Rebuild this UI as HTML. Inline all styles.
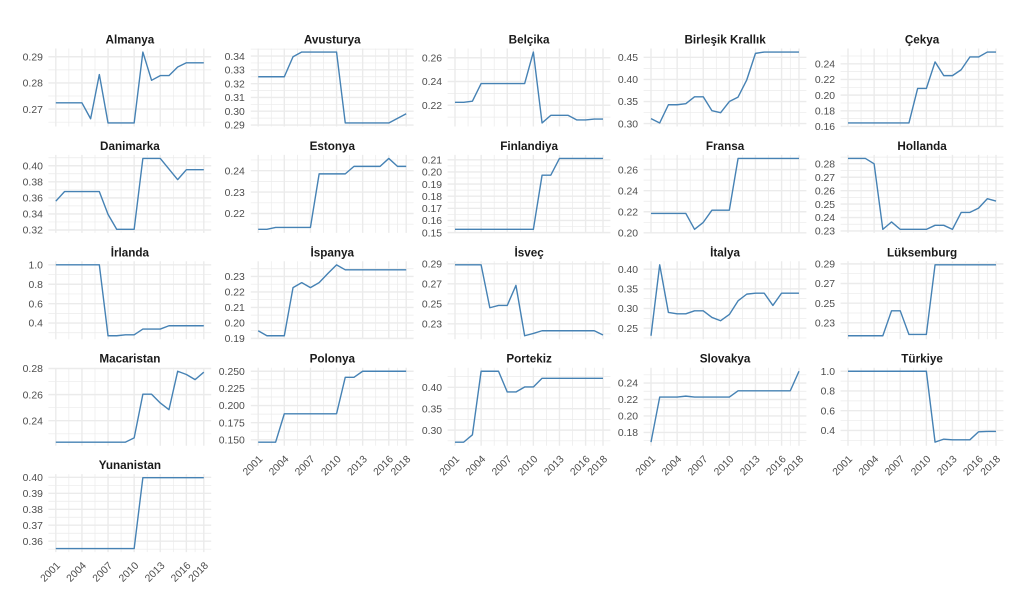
<!DOCTYPE html>
<html><head><meta charset="utf-8"><style>
html,body{margin:0;padding:0;background:#fff;}
svg{display:block;}
path,polyline{vector-effect:non-scaling-stroke;fill:none;}
.mn{stroke:#EBEBEB;stroke-width:0.7;}
.mj{stroke:#EBEBEB;stroke-width:1.4;}
.d{stroke:#4682B4;stroke-width:1.4;stroke-linejoin:round;}
.y{font-family:"Liberation Sans",sans-serif;font-size:10.4px;fill:#4D4D4D;text-anchor:end;}
.x{font-family:"Liberation Sans",sans-serif;font-size:10.4px;fill:#4D4D4D;text-anchor:end;}
.t{font-family:"Liberation Sans","Noto Sans CJK JP",sans-serif;font-size:11.7px;font-weight:bold;fill:#1a1a1a;text-anchor:middle;}
</style></head><body>
<svg width="1011" height="604" viewBox="0 0 1011 604" xmlns="http://www.w3.org/2000/svg">
<rect width="1011" height="604" fill="#fff"/>

<!-- Almanya -->
<g transform="translate(55.8,52.05) scale(8.706,-2616.2) translate(-2001,-0.2918)">
<path class="mn" d="M2000.15,.265H2018.85M2000.15,.275H2018.85M2000.15,.285H2018.85M2002.5,.26335V.29316M2005.5,.26335V.29316M2008.5,.26335V.29316M2011.5,.26335V.29316M2014.5,.26335V.29316M2017,.26335V.29316"/>
<path class="mj" d="M2000.15,.27H2018.85M2000.15,.28H2018.85M2000.15,.29H2018.85M2001,.26335V.29316M2004,.26335V.29316M2007,.26335V.29316M2010,.26335V.29316M2013,.26335V.29316M2016,.26335V.29316M2018,.26335V.29316"/>
<polyline class="d" points="2001,.2724 2004,.2724 2005,.2663 2006,.2832 2007,.2647 2010,.2647 2011,.2918 2012,.2810 2013,.2828 2014,.2828 2015,.2861 2016,.2877 2018,.2877"/>
</g>
<text class="t" x="129.9" y="43.5">Almanya</text>
<text class="y" x="42.9" y="60.5">0.29</text><text class="y" x="42.9" y="86.6">0.28</text><text class="y" x="42.9" y="112.8">0.27</text>

<!-- Avusturya -->
<g transform="translate(258.2,52.05) scale(8.706,-1379.4) translate(-2001,-0.3429)">
<path class="mn" d="M2000.15,.295H2018.85M2000.15,.305H2018.85M2000.15,.315H2018.85M2000.15,.325H2018.85M2000.15,.335H2018.85M2000.15,.345H2018.85M2002.5,.28893V.34547M2005.5,.28893V.34547M2008.5,.28893V.34547M2011.5,.28893V.34547M2014.5,.28893V.34547M2017,.28893V.34547"/>
<path class="mj" d="M2000.15,.29H2018.85M2000.15,.30H2018.85M2000.15,.31H2018.85M2000.15,.32H2018.85M2000.15,.33H2018.85M2000.15,.34H2018.85M2001,.28893V.34547M2004,.28893V.34547M2007,.28893V.34547M2010,.28893V.34547M2013,.28893V.34547M2016,.28893V.34547M2018,.28893V.34547"/>
<polyline class="d" points="2001,.325 2004,.325 2005,.3395 2006,.3429 2010,.3429 2011,.2915 2016,.2915 2017,.2948 2018,.2982"/>
</g>
<text class="t" x="332.3" y="43.5">Avusturya</text>
<text class="y" x="244.8" y="59.8">0.34</text><text class="y" x="244.8" y="73.5">0.33</text><text class="y" x="244.8" y="87.3">0.32</text><text class="y" x="244.8" y="101.1">0.31</text><text class="y" x="244.8" y="114.9">0.30</text><text class="y" x="244.8" y="128.7">0.29</text>

<!-- Belçika -->
<g transform="translate(455,52.05) scale(8.706,-1187.6) translate(-2001,-0.2648)">
<path class="mn" d="M2000.15,.21H2018.85M2000.15,.23H2018.85M2000.15,.25H2018.85M2002.5,.2021V.2678M2005.5,.2021V.2678M2008.5,.2021V.2678M2011.5,.2021V.2678M2014.5,.2021V.2678M2017,.2021V.2678"/>
<path class="mj" d="M2000.15,.22H2018.85M2000.15,.24H2018.85M2000.15,.26H2018.85M2001,.2021V.2678M2004,.2021V.2678M2007,.2021V.2678M2010,.2021V.2678M2013,.2021V.2678M2016,.2021V.2678M2018,.2021V.2678"/>
<polyline class="d" points="2001,.2225 2002,.2225 2003,.2234 2004,.2383 2009,.2383 2010,.2648 2011,.2051 2012,.2115 2014,.2115 2015,.2076 2016,.2076 2017,.2084 2018,.2084"/>
</g>
<text class="t" x="529.1" y="43.5">Belçika</text>
<text class="y" x="442.1" y="61.5">0.26</text><text class="y" x="442.1" y="85.2">0.24</text><text class="y" x="442.1" y="109.0">0.22</text>

<!-- Birleşik Krallık -->
<g transform="translate(651,52.05) scale(8.706,-441.74) translate(-2001,-0.462)">
<path class="mn" d="M2000.15,.325H2018.85M2000.15,.375H2018.85M2000.15,.425H2018.85M2002.5,.2935V.470M2005.5,.2935V.470M2008.5,.2935V.470M2011.5,.2935V.470M2014.5,.2935V.470M2017,.2935V.470"/>
<path class="mj" d="M2000.15,.30H2018.85M2000.15,.35H2018.85M2000.15,.40H2018.85M2000.15,.45H2018.85M2001,.2935V.470M2004,.2935V.470M2007,.2935V.470M2010,.2935V.470M2013,.2935V.470M2016,.2935V.470M2018,.2935V.470"/>
<polyline class="d" points="2001,.3112 2002,.3015 2003,.3427 2004,.3427 2005,.345 2006,.3607 2007,.3607 2008,.3292 2009,.3247 2010,.35 2011,.36 2012,.399 2013,.459 2014,.462 2018,.462"/>
</g>
<text class="t" x="725.1" y="43.5">Birleşik Krallık</text>
<text class="y" x="638.1" y="61.1">0.45</text><text class="y" x="638.1" y="83.1">0.40</text><text class="y" x="638.1" y="105.2">0.35</text><text class="y" x="638.1" y="127.3">0.30</text>

<!-- Çekya -->
<g transform="translate(848,52.05) scale(8.706,-783.4) translate(-2001,-0.255)">
<path class="mn" d="M2000.15,.17H2018.85M2000.15,.19H2018.85M2000.15,.21H2018.85M2000.15,.23H2018.85M2000.15,.25H2018.85M2002.5,.15998V.25953M2005.5,.15998V.25953M2008.5,.15998V.25953M2011.5,.15998V.25953M2014.5,.15998V.25953M2017,.15998V.25953"/>
<path class="mj" d="M2000.15,.16H2018.85M2000.15,.18H2018.85M2000.15,.20H2018.85M2000.15,.22H2018.85M2000.15,.24H2018.85M2001,.15998V.25953M2004,.15998V.25953M2007,.15998V.25953M2010,.15998V.25953M2013,.15998V.25953M2016,.15998V.25953M2018,.15998V.25953"/>
<polyline class="d" points="2001,.1645 2008,.1645 2009,.2085 2010,.2085 2011,.2424 2012,.2249 2013,.2249 2014,.2324 2015,.2487 2016,.2487 2017,.255 2018,.255"/>
</g>
<text class="t" x="922.1" y="43.5">Çekya</text>
<text class="y" x="835.1" y="67.5">0.24</text><text class="y" x="835.1" y="83.2">0.22</text><text class="y" x="835.1" y="98.8">0.20</text><text class="y" x="835.1" y="114.5">0.18</text><text class="y" x="835.1" y="130.2">0.16</text>

<!-- Danimarka -->
<g transform="translate(55.8,158.45) scale(8.706,-802.9) translate(-2001,-0.4091)">
<path class="mn" d="M2000.15,.33H2018.85M2000.15,.35H2018.85M2000.15,.37H2018.85M2000.15,.39H2018.85M2000.15,.41H2018.85M2002.5,.31639V.41352M2005.5,.31639V.41352M2008.5,.31639V.41352M2011.5,.31639V.41352M2014.5,.31639V.41352M2017,.31639V.41352"/>
<path class="mj" d="M2000.15,.32H2018.85M2000.15,.34H2018.85M2000.15,.36H2018.85M2000.15,.38H2018.85M2000.15,.40H2018.85M2001,.31639V.41352M2004,.31639V.41352M2007,.31639V.41352M2010,.31639V.41352M2013,.31639V.41352M2016,.31639V.41352M2018,.31639V.41352"/>
<polyline class="d" points="2001,.3559 2002,.3678 2006,.3678 2007,.3394 2008,.3208 2010,.3208 2011,.4091 2013,.4091 2014,.3959 2015,.3827 2016,.3951 2018,.3951"/>
</g>
<text class="t" x="129.9" y="149.9">Danimarka</text>
<text class="y" x="42.9" y="169.5">0.40</text><text class="y" x="42.9" y="185.5">0.38</text><text class="y" x="42.9" y="201.6">0.36</text><text class="y" x="42.9" y="217.6">0.34</text><text class="y" x="42.9" y="233.7">0.32</text>

<!-- Estonya -->
<g transform="translate(258.2,158.45) scale(8.706,-2142) translate(-2001,-0.2457)">
<path class="mn" d="M2000.15,.215H2018.85M2000.15,.225H2018.85M2000.15,.235H2018.85M2000.15,.245H2018.85M2002.5,.21095V.24736M2005.5,.21095V.24736M2008.5,.21095V.24736M2011.5,.21095V.24736M2014.5,.21095V.24736M2017,.21095V.24736"/>
<path class="mj" d="M2000.15,.22H2018.85M2000.15,.23H2018.85M2000.15,.24H2018.85M2001,.21095V.24736M2004,.21095V.24736M2007,.21095V.24736M2010,.21095V.24736M2013,.21095V.24736M2016,.21095V.24736M2018,.21095V.24736"/>
<polyline class="d" points="2001,.2126 2002,.2126 2003,.2135 2007,.2135 2008,.2385 2011,.2385 2012,.242 2015,.242 2016,.2457 2017,.242 2018,.242"/>
</g>
<text class="t" x="332.3" y="149.9">Estonya</text>
<text class="y" x="244.8" y="174.4">0.24</text><text class="y" x="244.8" y="195.8">0.23</text><text class="y" x="244.8" y="217.2">0.22</text>

<!-- Finlandiya -->
<g transform="translate(455,158.45) scale(8.706,-1214) translate(-2001,-0.2111)">
<path class="mn" d="M2000.15,.155H2018.85M2000.15,.165H2018.85M2000.15,.175H2018.85M2000.15,.185H2018.85M2000.15,.195H2018.85M2000.15,.205H2018.85M2002.5,.14978V.21402M2005.5,.14978V.21402M2008.5,.14978V.21402M2011.5,.14978V.21402M2014.5,.14978V.21402M2017,.14978V.21402"/>
<path class="mj" d="M2000.15,.15H2018.85M2000.15,.16H2018.85M2000.15,.17H2018.85M2000.15,.18H2018.85M2000.15,.19H2018.85M2000.15,.20H2018.85M2000.15,.21H2018.85M2001,.14978V.21402M2004,.14978V.21402M2007,.14978V.21402M2010,.14978V.21402M2013,.14978V.21402M2016,.14978V.21402M2018,.14978V.21402"/>
<polyline class="d" points="2001,.1527 2010,.1527 2011,.1973 2012,.1973 2013,.2111 2018,.2111"/>
</g>
<text class="t" x="529.1" y="149.9">Finlandiya</text>
<text class="y" x="442.1" y="163.5">0.21</text><text class="y" x="442.1" y="175.6">0.20</text><text class="y" x="442.1" y="187.8">0.19</text><text class="y" x="442.1" y="199.9">0.18</text><text class="y" x="442.1" y="212.1">0.17</text><text class="y" x="442.1" y="224.2">0.16</text><text class="y" x="442.1" y="236.3">0.15</text>

<!-- Fransa -->
<g transform="translate(651,158.45) scale(8.706,-1053.5) translate(-2001,-0.2706)">
<path class="mn" d="M2000.15,.21H2018.85M2000.15,.23H2018.85M2000.15,.25H2018.85M2000.15,.27H2018.85M2002.5,.19994V.27397M2005.5,.19994V.27397M2008.5,.19994V.27397M2011.5,.19994V.27397M2014.5,.19994V.27397M2017,.19994V.27397"/>
<path class="mj" d="M2000.15,.20H2018.85M2000.15,.22H2018.85M2000.15,.24H2018.85M2000.15,.26H2018.85M2001,.19994V.27397M2004,.19994V.27397M2007,.19994V.27397M2010,.19994V.27397M2013,.19994V.27397M2016,.19994V.27397M2018,.19994V.27397"/>
<polyline class="d" points="2001,.2184 2005,.2184 2006,.2033 2007,.2099 2008,.2215 2010,.2215 2011,.2706 2018,.2706"/>
</g>
<text class="t" x="725.1" y="149.9">Fransa</text>
<text class="y" x="638.1" y="173.3">0.26</text><text class="y" x="638.1" y="194.4">0.24</text><text class="y" x="638.1" y="215.5">0.22</text><text class="y" x="638.1" y="236.5">0.20</text>

<!-- Hollanda -->
<g transform="translate(848,158.45) scale(8.706,-1342.8) translate(-2001,-0.284)">
<path class="mn" d="M2000.15,.235H2018.85M2000.15,.245H2018.85M2000.15,.255H2018.85M2000.15,.265H2018.85M2000.15,.275H2018.85M2000.15,.285H2018.85M2002.5,.22856V.28664M2005.5,.22856V.28664M2008.5,.22856V.28664M2011.5,.22856V.28664M2014.5,.22856V.28664M2017,.22856V.28664"/>
<path class="mj" d="M2000.15,.23H2018.85M2000.15,.24H2018.85M2000.15,.25H2018.85M2000.15,.26H2018.85M2000.15,.27H2018.85M2000.15,.28H2018.85M2001,.22856V.28664M2004,.22856V.28664M2007,.22856V.28664M2010,.22856V.28664M2013,.22856V.28664M2016,.22856V.28664M2018,.22856V.28664"/>
<polyline class="d" points="2001,.284 2003,.284 2004,.28 2005,.2312 2006,.2367 2007,.2312 2010,.2312 2011,.2342 2012,.2342 2013,.2312 2014,.2438 2015,.2438 2016,.247 2017,.254 2018,.2523"/>
</g>
<text class="t" x="922.1" y="149.9">Hollanda</text>
<text class="y" x="835.1" y="167.5">0.28</text><text class="y" x="835.1" y="181.0">0.27</text><text class="y" x="835.1" y="194.4">0.26</text><text class="y" x="835.1" y="207.8">0.25</text><text class="y" x="835.1" y="221.2">0.24</text><text class="y" x="835.1" y="234.7">0.23</text>

<!-- İrlanda -->
<g transform="translate(55.8,264.85) scale(8.706,-96.99) translate(-2001,-1)">
<path class="mn" d="M2000.15,.3H2018.85M2000.15,.5H2018.85M2000.15,.7H2018.85M2000.15,.9H2018.85M2002.5,.23245V1.03655M2005.5,.23245V1.03655M2008.5,.23245V1.03655M2011.5,.23245V1.03655M2014.5,.23245V1.03655M2017,.23245V1.03655"/>
<path class="mj" d="M2000.15,.4H2018.85M2000.15,.6H2018.85M2000.15,.8H2018.85M2000.15,1H2018.85M2001,.23245V1.03655M2004,.23245V1.03655M2007,.23245V1.03655M2010,.23245V1.03655M2013,.23245V1.03655M2016,.23245V1.03655M2018,.23245V1.03655"/>
<polyline class="d" points="2001,1 2006,1 2007,.269 2008,.269 2009,.279 2010,.279 2011,.338 2013,.338 2014,.372 2018,.372"/>
</g>
<text class="t" x="129.9" y="256.3">İrlanda</text>
<text class="y" x="42.9" y="268.6">1.0</text><text class="y" x="42.9" y="288.0">0.8</text><text class="y" x="42.9" y="307.4">0.6</text><text class="y" x="42.9" y="326.7">0.4</text>

<!-- İspanya -->
<g transform="translate(258.2,264.85) scale(8.706,-1548) translate(-2001,-0.2375)">
<path class="mn" d="M2000.15,.195H2018.85M2000.15,.205H2018.85M2000.15,.215H2018.85M2000.15,.225H2018.85M2000.15,.235H2018.85M2002.5,.18941V.23979M2005.5,.18941V.23979M2008.5,.18941V.23979M2011.5,.18941V.23979M2014.5,.18941V.23979M2017,.18941V.23979"/>
<path class="mj" d="M2000.15,.19H2018.85M2000.15,.20H2018.85M2000.15,.21H2018.85M2000.15,.22H2018.85M2000.15,.23H2018.85M2001,.18941V.23979M2004,.18941V.23979M2007,.18941V.23979M2010,.18941V.23979M2013,.18941V.23979M2016,.18941V.23979M2018,.18941V.23979"/>
<polyline class="d" points="2001,.1949 2002,.1917 2004,.1917 2005,.2228 2006,.226 2007,.2228 2008,.226 2009,.2319 2010,.2375 2011,.2343 2018,.2343"/>
</g>
<text class="t" x="332.3" y="256.3">İspanya</text>
<text class="y" x="244.8" y="280.2">0.23</text><text class="y" x="244.8" y="295.6">0.22</text><text class="y" x="244.8" y="311.1">0.21</text><text class="y" x="244.8" y="326.6">0.20</text><text class="y" x="244.8" y="342.1">0.19</text>

<!-- İsveç -->
<g transform="translate(455,264.85) scale(8.706,-1000) translate(-2001,-0.289)">
<path class="mn" d="M2000.15,.22H2018.85M2000.15,.24H2018.85M2000.15,.26H2018.85M2000.15,.28H2018.85M2002.5,.21456V.29255M2005.5,.21456V.29255M2008.5,.21456V.29255M2011.5,.21456V.29255M2014.5,.21456V.29255M2017,.21456V.29255"/>
<path class="mj" d="M2000.15,.23H2018.85M2000.15,.25H2018.85M2000.15,.27H2018.85M2000.15,.29H2018.85M2001,.21456V.29255M2004,.21456V.29255M2007,.21456V.29255M2010,.21456V.29255M2013,.21456V.29255M2016,.21456V.29255M2018,.21456V.29255"/>
<polyline class="d" points="2001,.289 2004,.289 2005,.2461 2006,.2484 2007,.2484 2008,.2685 2009,.2181 2010,.2204 2011,.2231 2017,.2231 2018,.2188"/>
</g>
<text class="t" x="529.1" y="256.3">İsveç</text>
<text class="y" x="442.1" y="267.6">0.29</text><text class="y" x="442.1" y="287.6">0.27</text><text class="y" x="442.1" y="307.6">0.25</text><text class="y" x="442.1" y="327.6">0.23</text>

<!-- İtalya -->
<g transform="translate(651,264.85) scale(8.706,-393) translate(-2001,-0.411)">
<path class="mn" d="M2000.15,.225H2018.85M2000.15,.275H2018.85M2000.15,.325H2018.85M2000.15,.375H2018.85M2002.5,.22158V.42002M2005.5,.22158V.42002M2008.5,.22158V.42002M2011.5,.22158V.42002M2014.5,.22158V.42002M2017,.22158V.42002"/>
<path class="mj" d="M2000.15,.25H2018.85M2000.15,.30H2018.85M2000.15,.35H2018.85M2000.15,.40H2018.85M2001,.22158V.42002M2004,.22158V.42002M2007,.22158V.42002M2010,.22158V.42002M2013,.22158V.42002M2016,.22158V.42002M2018,.22158V.42002"/>
<polyline class="d" points="2001,.2306 2002,.411 2003,.2899 2004,.2865 2005,.2865 2006,.2941 2007,.2941 2008,.2772 2009,.2688 2010,.2848 2011,.3194 2012,.3365 2013,.339 2014,.339 2015,.3078 2016,.339 2018,.339"/>
</g>
<text class="t" x="725.1" y="256.3">İtalya</text>
<text class="y" x="638.1" y="272.9">0.40</text><text class="y" x="638.1" y="292.5">0.35</text><text class="y" x="638.1" y="312.2">0.30</text><text class="y" x="638.1" y="331.8">0.25</text>

<!-- Lüksemburg -->
<g transform="translate(848,264.85) scale(8.706,-982) translate(-2001,-0.289)">
<path class="mn" d="M2000.15,.22H2018.85M2000.15,.24H2018.85M2000.15,.26H2018.85M2000.15,.28H2018.85M2002.5,.21319V.29261M2005.5,.21319V.29261M2008.5,.21319V.29261M2011.5,.21319V.29261M2014.5,.21319V.29261M2017,.21319V.29261"/>
<path class="mj" d="M2000.15,.23H2018.85M2000.15,.25H2018.85M2000.15,.27H2018.85M2000.15,.29H2018.85M2001,.21319V.29261M2004,.21319V.29261M2007,.21319V.29261M2010,.21319V.29261M2013,.21319V.29261M2016,.21319V.29261M2018,.21319V.29261"/>
<polyline class="d" points="2001,.2168 2005,.2168 2006,.2422 2007,.2422 2008,.2181 2010,.2181 2011,.289 2018,.289"/>
</g>
<text class="t" x="922.1" y="256.3">Lüksemburg</text>
<text class="y" x="835.1" y="267.6">0.29</text><text class="y" x="835.1" y="287.2">0.27</text><text class="y" x="835.1" y="306.9">0.25</text><text class="y" x="835.1" y="326.5">0.23</text>

<!-- Macaristan -->
<g transform="translate(55.8,371.25) scale(8.706,-1305.7) translate(-2001,-0.2779)">
<path class="mn" d="M2000.15,.23H2018.85M2000.15,.25H2018.85M2000.15,.27H2018.85M2002.5,.22089V.28062M2005.5,.22089V.28062M2008.5,.22089V.28062M2011.5,.22089V.28062M2014.5,.22089V.28062M2017,.22089V.28062"/>
<path class="mj" d="M2000.15,.24H2018.85M2000.15,.26H2018.85M2000.15,.28H2018.85M2001,.22089V.28062M2004,.22089V.28062M2007,.22089V.28062M2010,.22089V.28062M2013,.22089V.28062M2016,.22089V.28062M2018,.22089V.28062"/>
<polyline class="d" points="2001,.2236 2009,.2236 2010,.2269 2011,.2603 2012,.2603 2013,.2536 2014,.2485 2015,.2779 2016,.2754 2017,.2715 2018,.2772"/>
</g>
<text class="t" x="129.9" y="362.7">Macaristan</text>
<text class="y" x="42.9" y="372.2">0.28</text><text class="y" x="42.9" y="398.3">0.26</text><text class="y" x="42.9" y="424.4">0.24</text>

<!-- Polonya -->
<g transform="translate(258.2,371.25) scale(8.706,-685.7) translate(-2001,-0.25)">
<path class="mn" d="M2000.15,.1625H2018.85M2000.15,.1875H2018.85M2000.15,.2125H2018.85M2000.15,.2375H2018.85M2002.5,.14143V.25517M2005.5,.14143V.25517M2008.5,.14143V.25517M2011.5,.14143V.25517M2014.5,.14143V.25517M2017,.14143V.25517"/>
<path class="mj" d="M2000.15,.15H2018.85M2000.15,.175H2018.85M2000.15,.20H2018.85M2000.15,.225H2018.85M2000.15,.25H2018.85M2001,.14143V.25517M2004,.14143V.25517M2007,.14143V.25517M2010,.14143V.25517M2013,.14143V.25517M2016,.14143V.25517M2018,.14143V.25517"/>
<polyline class="d" points="2001,.1466 2003,.1466 2004,.188 2010,.188 2011,.2412 2012,.2412 2013,.25 2018,.25"/>
</g>
<text class="t" x="332.3" y="362.7">Polonya</text>
<text class="y" x="244.8" y="375.0">0.250</text><text class="y" x="244.8" y="392.1">0.225</text><text class="y" x="244.8" y="409.2">0.200</text><text class="y" x="244.8" y="426.4">0.175</text><text class="y" x="244.8" y="443.5">0.150</text>

<!-- Portekiz -->
<g transform="translate(455,371.25) scale(8.706,-428.1) translate(-2001,-0.4375)">
<path class="mn" d="M2000.15,.275H2018.85M2000.15,.325H2018.85M2000.15,.375H2018.85M2000.15,.425H2018.85M2002.5,.26362V.44578M2005.5,.26362V.44578M2008.5,.26362V.44578M2011.5,.26362V.44578M2014.5,.26362V.44578M2017,.26362V.44578"/>
<path class="mj" d="M2000.15,.30H2018.85M2000.15,.35H2018.85M2000.15,.40H2018.85M2001,.26362V.44578M2004,.26362V.44578M2007,.26362V.44578M2010,.26362V.44578M2013,.26362V.44578M2016,.26362V.44578M2018,.26362V.44578"/>
<polyline class="d" points="2001,.2719 2002,.2719 2003,.2891 2004,.4375 2006,.4375 2007,.3891 2008,.3891 2009,.4008 2010,.4008 2011,.4211 2018,.4211"/>
</g>
<text class="t" x="529.1" y="362.7">Portekiz</text>
<text class="y" x="442.1" y="391.0">0.40</text><text class="y" x="442.1" y="412.4">0.35</text><text class="y" x="442.1" y="433.8">0.30</text>

<!-- Slovakya -->
<g transform="translate(651,371.25) scale(8.706,-823.5) translate(-2001,-0.2543)">
<path class="mn" d="M2000.15,.17H2018.85M2000.15,.19H2018.85M2000.15,.21H2018.85M2000.15,.23H2018.85M2000.15,.25H2018.85M2002.5,.1639V.25861M2005.5,.1639V.25861M2008.5,.1639V.25861M2011.5,.1639V.25861M2014.5,.1639V.25861M2017,.1639V.25861"/>
<path class="mj" d="M2000.15,.18H2018.85M2000.15,.20H2018.85M2000.15,.22H2018.85M2000.15,.24H2018.85M2001,.1639V.25861M2004,.1639V.25861M2007,.1639V.25861M2010,.1639V.25861M2013,.1639V.25861M2016,.1639V.25861M2018,.1639V.25861"/>
<polyline class="d" points="2001,.1682 2002,.2229 2004,.2229 2005,.2241 2006,.2229 2010,.2229 2011,.2306 2017,.2306 2018,.2543"/>
</g>
<text class="t" x="725.1" y="362.7">Slovakya</text>
<text class="y" x="638.1" y="386.7">0.24</text><text class="y" x="638.1" y="403.2">0.22</text><text class="y" x="638.1" y="419.7">0.20</text><text class="y" x="638.1" y="436.1">0.18</text>

<!-- Türkiye -->
<g transform="translate(848,371.25) scale(8.706,-98.66) translate(-2001,-1)">
<path class="mn" d="M2000.15,.3H2018.85M2000.15,.5H2018.85M2000.15,.7H2018.85M2000.15,.9H2018.85M2002.5,.24547V1.03593M2005.5,.24547V1.03593M2008.5,.24547V1.03593M2011.5,.24547V1.03593M2014.5,.24547V1.03593M2017,.24547V1.03593"/>
<path class="mj" d="M2000.15,.4H2018.85M2000.15,.6H2018.85M2000.15,.8H2018.85M2000.15,1H2018.85M2001,.24547V1.03593M2004,.24547V1.03593M2007,.24547V1.03593M2010,.24547V1.03593M2013,.24547V1.03593M2016,.24547V1.03593M2018,.24547V1.03593"/>
<polyline class="d" points="2001,1 2010,1 2011,.2814 2012,.3119 2013,.305 2015,.305 2016,.3864 2017,.39 2018,.39"/>
</g>
<text class="t" x="922.1" y="362.7">Türkiye</text>
<text class="y" x="835.1" y="375.0">1.0</text><text class="y" x="835.1" y="394.7">0.8</text><text class="y" x="835.1" y="414.4">0.6</text><text class="y" x="835.1" y="434.2">0.4</text>

<!-- Yunanistan -->
<g transform="translate(55.8,477.65) scale(8.706,-1596.8) translate(-2001,-0.3998)">
<path class="mn" d="M2000.15,.355H2018.85M2000.15,.365H2018.85M2000.15,.375H2018.85M2000.15,.385H2018.85M2000.15,.395H2018.85M2002.5,.35318V.40202M2005.5,.35318V.40202M2008.5,.35318V.40202M2011.5,.35318V.40202M2014.5,.35318V.40202M2017,.35318V.40202"/>
<path class="mj" d="M2000.15,.36H2018.85M2000.15,.37H2018.85M2000.15,.38H2018.85M2000.15,.39H2018.85M2000.15,.40H2018.85M2001,.35318V.40202M2004,.35318V.40202M2007,.35318V.40202M2010,.35318V.40202M2013,.35318V.40202M2016,.35318V.40202M2018,.35318V.40202"/>
<polyline class="d" points="2001,.3554 2010,.3554 2011,.3998 2018,.3998"/>
</g>
<text class="t" x="129.9" y="469.1">Yunanistan</text>
<text class="y" x="42.9" y="481.0">0.40</text><text class="y" x="42.9" y="497.0">0.39</text><text class="y" x="42.9" y="513.0">0.38</text><text class="y" x="42.9" y="528.9">0.37</text><text class="y" x="42.9" y="544.9">0.36</text>

<!-- X axis labels -->
<g>
<text class="x" transform="translate(60.8,566.1) rotate(-45)">2001</text>
<text class="x" transform="translate(86.9,566.1) rotate(-45)">2004</text>
<text class="x" transform="translate(113.0,566.1) rotate(-45)">2007</text>
<text class="x" transform="translate(139.2,566.1) rotate(-45)">2010</text>
<text class="x" transform="translate(165.3,566.1) rotate(-45)">2013</text>
<text class="x" transform="translate(191.4,566.1) rotate(-45)">2016</text>
<text class="x" transform="translate(208.8,566.1) rotate(-45)">2018</text>
</g>
<g>
<text class="x" transform="translate(263.2,459.7) rotate(-45)">2001</text>
<text class="x" transform="translate(289.3,459.7) rotate(-45)">2004</text>
<text class="x" transform="translate(315.4,459.7) rotate(-45)">2007</text>
<text class="x" transform="translate(341.6,459.7) rotate(-45)">2010</text>
<text class="x" transform="translate(367.7,459.7) rotate(-45)">2013</text>
<text class="x" transform="translate(393.8,459.7) rotate(-45)">2016</text>
<text class="x" transform="translate(411.2,459.7) rotate(-45)">2018</text>
</g>
<g>
<text class="x" transform="translate(460,459.7) rotate(-45)">2001</text>
<text class="x" transform="translate(486.1,459.7) rotate(-45)">2004</text>
<text class="x" transform="translate(512.2,459.7) rotate(-45)">2007</text>
<text class="x" transform="translate(538.4,459.7) rotate(-45)">2010</text>
<text class="x" transform="translate(564.5,459.7) rotate(-45)">2013</text>
<text class="x" transform="translate(590.6,459.7) rotate(-45)">2016</text>
<text class="x" transform="translate(608,459.7) rotate(-45)">2018</text>
</g>
<g>
<text class="x" transform="translate(656,459.7) rotate(-45)">2001</text>
<text class="x" transform="translate(682.1,459.7) rotate(-45)">2004</text>
<text class="x" transform="translate(708.2,459.7) rotate(-45)">2007</text>
<text class="x" transform="translate(734.4,459.7) rotate(-45)">2010</text>
<text class="x" transform="translate(760.5,459.7) rotate(-45)">2013</text>
<text class="x" transform="translate(786.6,459.7) rotate(-45)">2016</text>
<text class="x" transform="translate(804,459.7) rotate(-45)">2018</text>
</g>
<g>
<text class="x" transform="translate(853,459.7) rotate(-45)">2001</text>
<text class="x" transform="translate(879.1,459.7) rotate(-45)">2004</text>
<text class="x" transform="translate(905.2,459.7) rotate(-45)">2007</text>
<text class="x" transform="translate(931.4,459.7) rotate(-45)">2010</text>
<text class="x" transform="translate(957.5,459.7) rotate(-45)">2013</text>
<text class="x" transform="translate(983.6,459.7) rotate(-45)">2016</text>
<text class="x" transform="translate(1001,459.7) rotate(-45)">2018</text>
</g>
</svg>
</body></html>
